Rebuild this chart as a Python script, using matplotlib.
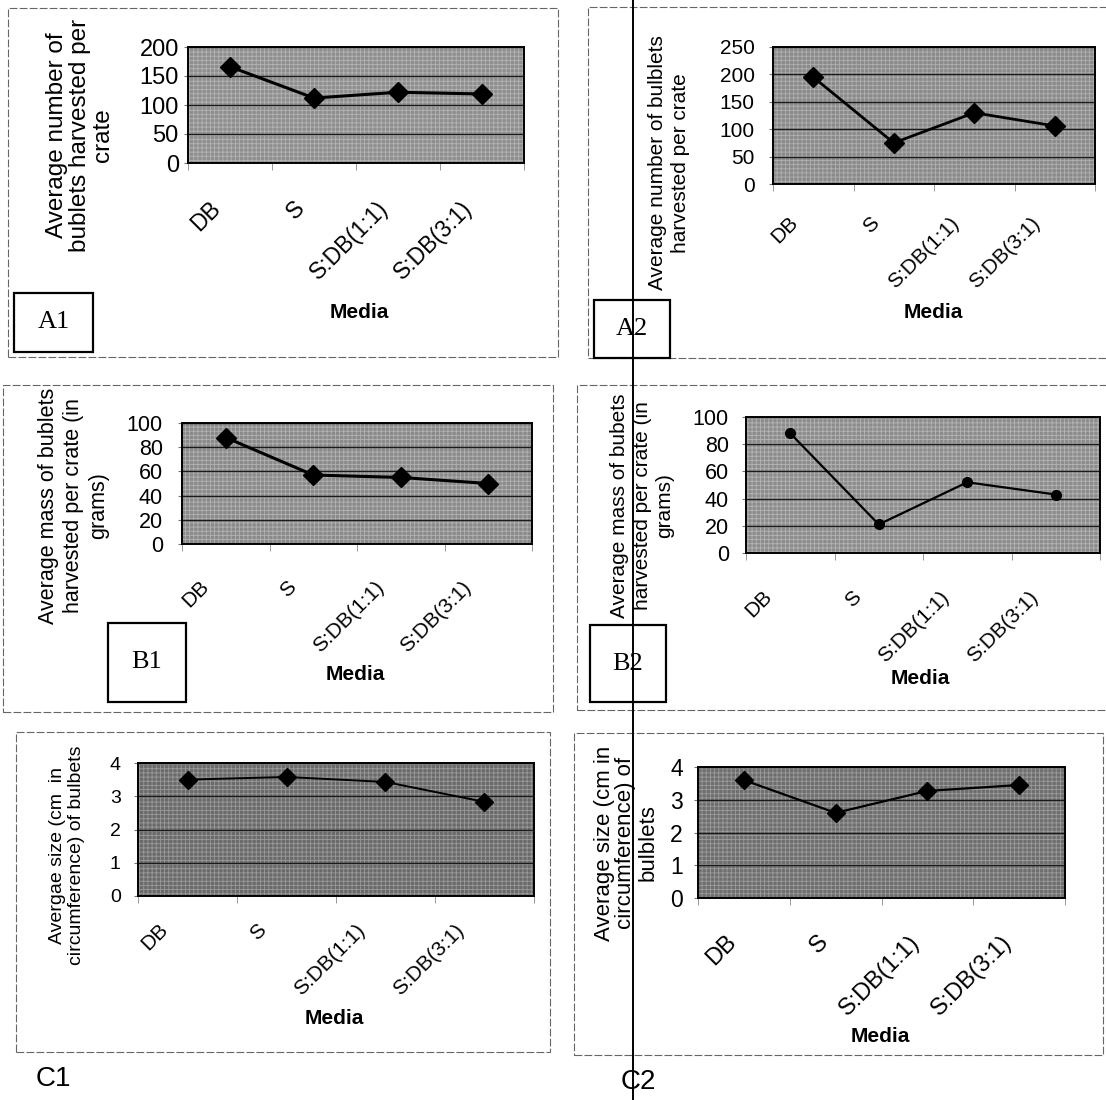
import numpy as np
import matplotlib
matplotlib.use("Agg")
import matplotlib.pyplot as plt
import matplotlib.transforms as mtransforms
from matplotlib.patches import Rectangle

plt.rcParams['font.family'] = ['Liberation Sans', 'DejaVu Sans']
plt.rcParams['hatch.linewidth'] = 0.6

# data
media = ["DB", "S", "S:DB(1:1)", "S:DB(3:1)"]

count_1 = [166, 112, 122, 119]     # A1
count_2 = [195, 75, 130, 106]      # A2
mass_1 = [88, 57, 55, 50]          # B1
mass_2 = [88, 21, 52, 43]          # B2
size_1 = [3.5, 3.58, 3.43, 2.83]   # C1
size_2 = [3.6, 2.6, 3.27, 3.45]    # C2

W, H = 1106, 1100
fig = plt.figure(figsize=(W / 100, H / 100), dpi=100)
fig.patch.set_facecolor("white")


def px_rect(x0, y0, x1, y1):
    return [x0 / W, 1 - y1 / H, (x1 - x0) / W, (y1 - y0) / H]


def frame(x0, y0, x1, y1, **kw):
    r = Rectangle((x0 / W, 1 - y1 / H), (x1 - x0) / W, (y1 - y0) / H,
                  transform=fig.transFigure, **kw)
    fig.add_artist(r)


def ftext(x, y, s, **kw):
    fig.text(x / W, 1 - y / H, s, **kw)


def panel(box, values, ymax, ystep, ylabel, ylab_xy, ylab_fs, ylab_ls,
          tick_fs, tick_pad, xt_fs, xt_dx, xt_pad, media_xy,
          face, hatch_col, marker="D", ms=9, lw=2.0):
    ax = fig.add_axes(px_rect(*box))
    ax.set_facecolor(face)
    ax.add_patch(Rectangle((0, 0), 1, 1, transform=ax.transAxes,
                           facecolor="none", edgecolor=hatch_col,
                           hatch="++++", lw=0, zorder=0.8))
    x = np.arange(len(media))
    ax.plot(x, values, color="black", lw=lw, marker=marker, ms=ms,
            zorder=3, clip_on=False)
    ax.set_xlim(-0.5, len(media) - 0.5)
    ax.set_ylim(0, ymax)
    ax.set_yticks(np.arange(0, ymax + ystep / 2, ystep))
    ax.set_axisbelow("line")
    ax.yaxis.grid(True, color="#1a1a1a", lw=1.0)
    ax.tick_params(axis="y", length=3, color="#777777",
                   labelsize=tick_fs, pad=tick_pad * 0.72)
    ax.set_xticks(x, labels=[])
    ax.set_xticks(np.arange(-0.5, len(media)), minor=True)
    ax.tick_params(axis="x", which="major", length=0)
    ax.tick_params(axis="x", which="minor", length=5, color="#888888")
    for sp in ax.spines.values():
        sp.set_color("black")
        sp.set_linewidth(1.4)

    trans = mtransforms.offset_copy(ax.transData, fig=fig, x=xt_dx,
                                    y=-xt_pad, units="dots")
    for xi, name in zip(x, media):
        ax.text(xi, 0, name, transform=trans, rotation=45, ha="right",
                va="center", rotation_mode="anchor", fontsize=xt_fs)

    ftext(*ylab_xy, ylabel, rotation=90, ha="center", va="center",
          multialignment="center", fontsize=ylab_fs, linespacing=ylab_ls)
    ftext(*media_xy, "Media", ha="center", va="center",
          fontsize=15, fontweight="bold")
    return ax


# outer dashed frames of each chart
frame_kw = dict(fill=False, edgecolor="#666666", lw=0.8, ls=(0, (7, 2)))
frame(8, 8, 558, 357, **frame_kw)
frame(588, 7, 1112, 358, **frame_kw)
frame(3, 385, 553, 712, **frame_kw)
frame(577, 385, 1112, 710, **frame_kw)
frame(16, 732, 550, 1052, **frame_kw)
frame(574, 733, 1103, 1055, **frame_kw)

panel((188, 47, 524, 163), count_1, 200, 50,
      "Average number of\nbublets harvested per\ncrate",
      (80, 135), 17.5, 1.05, 17, 5, 16.5, -13, 42, (359, 313),
      "#8e8e8e", "#b4b4b4", ms=10, lw=2.2)

panel((773, 47, 1095, 184), count_2, 250, 50,
      "Average number of bulblets\nharvested per crate",
      (669, 163), 15, 1.25, 15, 14, 15, -18, 36, (933, 313),
      "#8a8a8a", "#b0b0b0", ms=10, lw=2.0)

panel((182, 423, 532, 544), mass_1, 100, 20,
      "Average mass of bublets\nharvested per crate (in\ngrams)",
      (74, 506), 15.5, 1.25, 15.5, 15, 15, -20, 40, (355, 675),
      "#8a8a8a", "#b2b2b2", ms=10, lw=2.2)

panel((746, 417, 1100, 553), mass_2, 100, 20,
      "Average mass of bubets\nharvested per crate (in\ngrams)",
      (642, 506), 15, 1.25, 15.5, 13, 15, -21, 41, (920, 678),
      "#8c8c8c", "#b4b4b4", marker="o", ms=7, lw=1.6)

panel((138, 763, 534, 896), size_1, 4, 1,
      "Avergae size (cm  in\ncircumference) of bulbets",
      (67, 855), 14, 1.2, 14, 13, 15, -23, 31, (334, 1018),
      "#6a6a6a", "#9a9a9a", ms=9, lw=1.4)

panel((698, 767, 1065, 898), size_2, 4, 1,
      "Average size (cm in\ncircumference) of\nbulblets",
      (626, 843), 16, 1.05, 16.5, 11, 17, -11, 41, (880, 1036),
      "#6e6e6e", "#9c9c9c", ms=9, lw=1.6)

# panel tags in boxes
box_kw = dict(facecolor="white", edgecolor="black", lw=1.6, zorder=5)
for (x0, y0, x1, y1), tag in [((14, 293, 93, 352), "A1"),
                              ((594, 300, 670, 358), "A2"),
                              ((108, 623, 186, 702), "B1"),
                              ((590, 625, 666, 702), "B2")]:
    frame(x0, y0, x1, y1, **box_kw)
    ftext((x0 + x1) / 2, (y0 + y1) / 2, tag, ha="center", va="center",
          fontsize=19, family="Liberation Serif", zorder=6)

ftext(53, 1079, "C1", ha="center", va="center", fontsize=20)
ftext(638, 1082, "C2", ha="center", va="center", fontsize=20)

# the vertical rule running through the scan
fig.add_artist(plt.Line2D([633 / W, 633 / W], [0, 1], color="black",
                          lw=1.4, transform=fig.transFigure, zorder=10))

fig.savefig("out.png", dpi=100)
